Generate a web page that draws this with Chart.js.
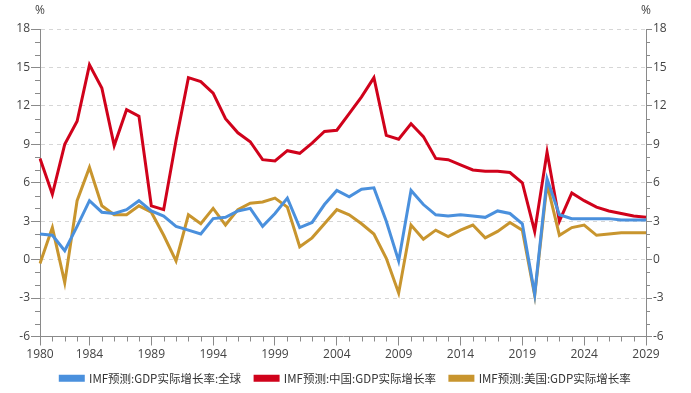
<!DOCTYPE html>
<html>
<head>
<meta charset="utf-8">
<script src="https://cdn.jsdelivr.net/npm/chart.js@4/dist/chart.umd.min.js"></script>
<style>
  html, body { margin: 0; padding: 0; background: #fff; }
  #wrap { width: 691px; height: 393px; position: relative; }
</style>
</head>
<body>
<div id="wrap"><canvas id="myChart"></canvas></div>
<script>
// years on the x axis
const years = [];
for (let y = 1980; y <= 2029; y++) years.push(String(y));

// x labels that are printed (others only get a small tick)
const labeledYears = ['1980', '1984', '1989', '1994', '1999', '2004', '2009', '2014', '2019', '2024', '2029'];

// IMF预测:GDP实际增长率:全球
const world = [2.0, 1.9, 0.7, 2.6, 4.6, 3.7, 3.6, 3.9, 4.6, 3.8,
               3.4, 2.6, 2.3, 2.0, 3.2, 3.3, 3.8, 4.0, 2.6, 3.6,
               4.8, 2.5, 2.9, 4.3, 5.4, 4.9, 5.5, 5.6, 3.0, -0.1,
               5.4, 4.3, 3.5, 3.4, 3.5, 3.4, 3.3, 3.8, 3.6, 2.8,
               -2.7, 6.3, 3.5, 3.2, 3.2, 3.2, 3.2, 3.1, 3.1, 3.1];

// IMF预测:中国:GDP实际增长率
const china = [7.9, 5.1, 9.0, 10.8, 15.2, 13.4, 8.9, 11.7, 11.2, 4.2,
               3.9, 9.3, 14.2, 13.9, 13.0, 11.0, 9.9, 9.2, 7.8, 7.7,
               8.5, 8.3, 9.1, 10.0, 10.1, 11.4, 12.7, 14.2, 9.7, 9.4,
               10.6, 9.6, 7.9, 7.8, 7.4, 7.0, 6.9, 6.9, 6.8, 6.0,
               2.2, 8.4, 3.0, 5.2, 4.6, 4.1, 3.8, 3.6, 3.4, 3.3];

// IMF预测:美国:GDP实际增长率
const usa = [-0.3, 2.5, -1.8, 4.6, 7.2, 4.2, 3.5, 3.5, 4.2, 3.7,
             1.9, -0.1, 3.5, 2.8, 4.0, 2.7, 3.9, 4.4, 4.5, 4.8,
             4.1, 1.0, 1.7, 2.8, 3.9, 3.5, 2.8, 2.0, 0.1, -2.6,
             2.7, 1.6, 2.3, 1.8, 2.3, 2.7, 1.7, 2.2, 2.9, 2.3,
             -2.8, 5.9, 1.9, 2.5, 2.7, 1.9, 2.0, 2.1, 2.1, 2.1];

const axisColor = '#8a8a8a';
const textColor = '#444';

Chart.defaults.font.family = "'Open Sans', 'Noto Sans CJK SC', sans-serif";
Chart.defaults.font.size = 12;
Chart.defaults.color = textColor;

// small ticks between the labelled ones, plus the % unit labels
const minorTicks = {
    id: 'minorTicks',
    afterDraw(chart) {
        const ctx = chart.ctx;
        const xs = chart.scales.x, yl = chart.scales.y, yr = chart.scales.y2;
        ctx.save();
        ctx.strokeStyle = axisColor;
        ctx.lineWidth = 1;
        ctx.beginPath();
        for (let v = -6; v <= 18; v++) {
            if (v % 3 === 0) continue;
            const py = Math.round(yl.getPixelForValue(v)) + 0.5;
            ctx.moveTo(yl.right - 5, py); ctx.lineTo(yl.right, py);
            ctx.moveTo(yr.left, py); ctx.lineTo(yr.left + 4, py);
        }
        years.forEach((y, i) => {
            if (labeledYears.includes(y)) return;
            const px = Math.round(xs.getPixelForValue(i)) + 0.5;
            ctx.moveTo(px, xs.top); ctx.lineTo(px, xs.top + 5);
        });
        ctx.stroke();
        ctx.fillStyle = textColor;
        ctx.font = "12px 'Open Sans', sans-serif";
        ctx.textAlign = 'center';
        ctx.textBaseline = 'middle';
        ctx.fillText('%', yl.right, 11);
        ctx.fillText('%', yr.left, 11);
        ctx.restore();
    }
};

const ctx = document.getElementById('myChart').getContext('2d');
new Chart(ctx, {
    type: 'line',
    data: {
        labels: years,
        datasets: [
            { label: 'IMF预测:GDP实际增长率:全球', data: world, borderColor: '#4a90dd', backgroundColor: '#4a90dd' },
            { label: 'IMF预测:中国:GDP实际增长率', data: china, borderColor: '#d0021b', backgroundColor: '#d0021b' },
            { label: 'IMF预测:美国:GDP实际增长率', data: usa, borderColor: '#c8952e', backgroundColor: '#c8952e' },
        ],
    },
    options: {
        responsive: true,
        maintainAspectRatio: false,
        animation: false,
        elements: {
            line: { borderWidth: 3, tension: 0 },
            point: { radius: 0, hoverRadius: 0 },
        },
        layout: { padding: { top: 29, left: 0, right: 0, bottom: -1 } },
        scales: {
            x: {
                type: 'category',
                offset: false,
                grid: {
                    drawOnChartArea: false,
                    tickLength: 9,
                    tickColor: (c) => labeledYears.includes(years[c.index]) ? axisColor : 'transparent',
                },
                border: { color: axisColor },
                ticks: {
                    autoSkip: false,
                    maxRotation: 0,
                    padding: 2,
                    color: textColor,
                    callback: (v, i) => labeledYears.includes(years[i]) ? years[i] : '',
                },
                afterFit: (s) => { s.height = 22; },
            },
            y: {
                position: 'left',
                min: -6, max: 18,
                ticks: { stepSize: 3, padding: 1, color: textColor },
                grid: {
                    color: (c) => c.tick && c.tick.value === -6 ? 'transparent' : '#d6d6d6',
                    tickColor: axisColor,
                    tickLength: 9,
                },
                border: { color: axisColor, dash: [4, 4] },
                afterFit: (s) => { s.width = 40; },
            },
            y2: {
                position: 'right',
                min: -6, max: 18,
                ticks: { stepSize: 3, padding: 1, color: textColor },
                grid: { drawOnChartArea: false, tickColor: axisColor, tickLength: 6 },
                border: { color: axisColor },
                afterFit: (s) => { s.width = 45; },
            },
        },
        plugins: {
            legend: {
                position: 'bottom',
                labels: {
                    boxWidth: 23, boxHeight: 4, padding: 14, color: '#333',
                    font: { family: "'Noto Sans CJK SC', sans-serif", size: 11.5 },
                },
            },
            tooltip: { enabled: false },
        },
    },
    plugins: [minorTicks],
});
</script>
</body>
</html>
